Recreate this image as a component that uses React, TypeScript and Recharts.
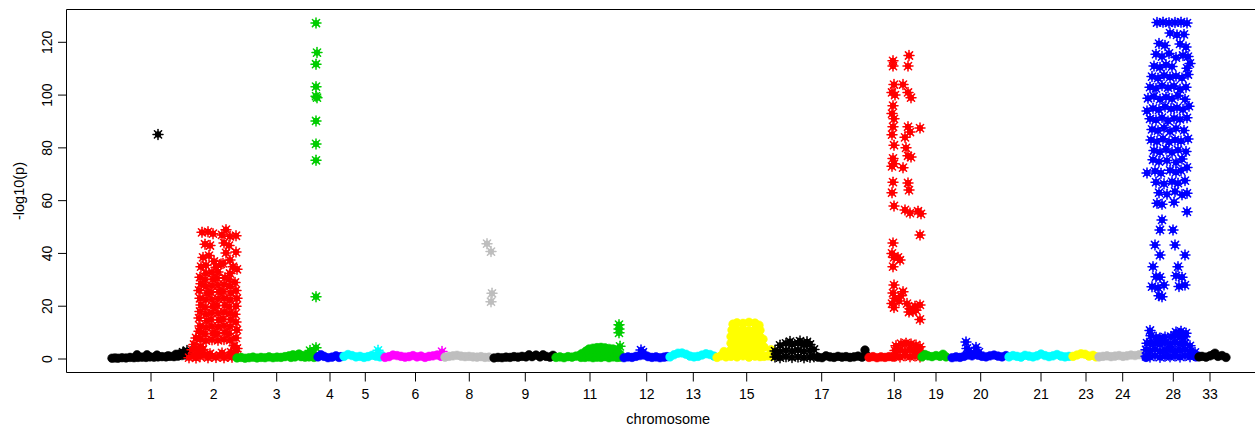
import React from 'react';
import { ScatterChart, Scatter, XAxis, YAxis, ReferenceArea } from 'recharts';

type Pt = [number, number];

// ---- tick labels / positions (cumulative genome position) ----
const chrLabels = ['1', '2', '3', '4', '5', '6', '8', '9', '11', '12', '13', '15', '17', '18', '19', '20', '21', '23', '24', '28', '33'];
const chrTicks = [41, 103.7, 166.7, 220, 255.3, 305.5, 359.3, 415.3, 480, 536.7, 583.3, 636.7, 711.7, 784.3, 826, 870.7, 931, 976, 1012.7, 1063.3, 1100];
const yTicks = [0, 20, 40, 60, 80, 100, 120];

// ---- per-chromosome values: [position, -log10(p)] ----
const chr1Base: Pt[] = [[2,0.3],[5,0.4],[8,0.3],[12,0.5],[16,0.4],[20,0.6],[24,0.5],[27,1.6],[28,0.6],[32,0.7],[36,0.6],[37,1.6],[40,0.8],[44,0.7],[47,1.5],[48,0.8],[52,0.9],[56,0.8],[58,1.2],[60,1.0],[64,0.9],[66,1.8],[68,1.1],[70,2.0],[72,1.3],[74,2.4],[76,1.5],[78,2.0]];
const chr1Hits: Pt[] = [[48,85.1],[73,2.6],[77,3.2]];

const chr2Hits: Pt[] = [
  [79,0.5],[83,1.2],[86,0.4],[90,0.9],[94,1.6],[98,0.5],[102,1.1],[106,0.6],[110,1.4],[114,0.5],[118,1.0],[122,0.7],[125,1.5],[88,2.2],[100,2.0],[112,2.3],[121,2.6],[126,2.8],
  [82,3.5],[84,5.5],[86,8.0],[88,4.0],[89,10.5],[91,4.6],[93,3.6],[124,5.0],[127,4.0],
  [90,7.5],[91,10],[90,12.5],[89,15.5],[90,18],[91,20.5],[90,23],[89,26],[91,28.5],[90,31],
  [96,7.0],[95,9.5],[96,12],[97,14.5],[96,17],[95,19.5],[96,22.5],[97,25],[96,27.5],[95,30],[96,32.5],
  [102,7.3],[103,9.8],[102,12.4],[101,15],[102,17.5],[103,20],[102,22.5],[101,25.2],[102,27.8],[103,30.3],[102,32.8],
  [108,7.1],[107,9.6],[108,12.2],[109,14.8],[108,17.4],[107,20.2],[108,22.8],[109,25.5],[108,28],[107,30.6],[108,33],
  [114,7.4],[115,10],[114,12.6],[113,15.2],[114,17.8],[115,20.4],[114,23],[113,25.6],[114,28.2],[115,30.8],
  [120,7.2],[119,9.7],[120,12.3],[121,14.9],[120,17.3],[119,19.8],[120,22.4],[121,25],[120,27.6],[119,30.2],[120,32.4],
  [126,8],[127,11],[126,14],[125,17],[126,20],[127,23],[126,26],[125,29],
  [92,48],[98,48.2],[103,47.5],[95,43.5],[100,43],[93,38.5],[99,39.2],[104,37],[96,35.5],[91,35],[106,34.8],[111,36],
  [116,49],[112,47],[120,46.5],[126,46.7],[114,44],[119,43],[126,40.5],[116,40.2],[120,37.5],[113,36.2],[123,35],[127,34]
];

const chr3Base: Pt[] = [[127,0.4],[131,0.6],[135,0.3],[139,0.5],[143,0.7],[147,0.4],[151,0.6],[155,0.5],[159,0.8],[163,0.5],[167,0.7],[171,0.6],[175,0.9],[179,1.2],[181,0.6],[183,1.6],[185,0.8],[187,1.4],[189,1.9],[191,0.9],[193,1.3],[195,0.7],[197,1.5],[199,0.8],[201,1.1],[204,0.6]];
const chr3Hits: Pt[] = [[206,127.3],[207,116.1],[206,111.7],[206,103.2],[206,99.6],[207,99.0],[206,90.2],[206,81.5],[206,75.3],[206,23.6],[206,4.3],[200,3.2],[203,2.4]];

const chr4Base: Pt[] = [[208,0.8],[211,1.6],[214,1.0],[218,0.5],[222,0.7],[226,1.2],[229,0.6],[231,0.9]];

const chr5Base: Pt[] = [[234,1.0],[238,1.7],[242,1.3],[246,0.8],[250,1.0],[254,0.6],[258,0.9],[262,1.4],[266,1.1],[270,0.8],[272,1.3]];
const chr5Hits: Pt[] = [[268,3.3]];

const chr6Base: Pt[] = [[275,0.6],[279,0.9],[283,1.5],[287,1.3],[291,1.0],[295,0.7],[299,0.9],[303,1.3],[307,0.8],[311,1.1],[315,0.6],[319,1.0],[323,1.2],[327,1.5],[331,1.0]];
const chr6Hits: Pt[] = [[332,2.8]];

const chr8Base: Pt[] = [[335,0.7],[339,1.0],[343,1.2],[347,1.4],[351,1.1],[355,0.9],[359,1.0],[363,0.8],[367,0.7],[371,0.9],[375,0.6],[379,0.7]];
const chr8Hits: Pt[] = [[377,43.7],[381,40.7],[382,24.9],[381,21.7]];

const chr9Base: Pt[] = [[384,0.4],[388,0.6],[392,0.5],[396,0.7],[400,0.6],[404,0.9],[408,0.7],[412,1.0],[416,0.8],[419,1.6],[422,0.9],[426,1.5],[430,0.8],[433,1.6],[436,1.0],[440,0.7],[443,1.4]];

const chr11Base: Pt[] = [
  [446,0.6],[450,0.8],[454,0.5],[458,0.9],[462,0.7],[466,1.1],[470,1.5],[471,0.6],[472,2.1],
  [475,0.6],[475,2.3],[476,3.0],[479,0.8],[479,2.2],[479,3.8],[483,0.5],[483,2.0],[483,4.1],[487,0.7],[487,2.4],[487,4.3],
  [491,0.6],[491,2.1],[491,4.4],[495,0.9],[495,2.5],[495,4.2],[499,0.5],[499,2.0],[499,4.0],[503,0.8],[503,2.3],[503,3.8],
  [507,0.6],[507,2.2],[507,3.3],[510,0.7],[510,1.8]
];
const chr11Hits: Pt[] = [[509,13.0],[509,11.4],[509,9.9],[510,4.8]];

const chr12Base: Pt[] = [[514,0.5],[518,0.8],[522,0.6],[526,1.0],[530,1.3],[534,1.5],[538,0.9],[542,0.6],[546,0.8],[550,0.5],[554,0.7],[557,0.9]];
const chr12Hits: Pt[] = [[531,3.4],[533,2.6]];

const chr13Base: Pt[] = [[560,0.8],[564,1.6],[568,2.2],[572,2.3],[576,1.8],[580,1.1],[584,0.8],[588,1.0],[592,1.5],[596,2.0],[600,1.7],[604,1.1]];

const chr15Base: Pt[] = [
  [607,0.6],[611,1.2],[614,2.8],[616,0.8],
  [621,1.0],[621,3.5],[621,6.0],[621,8.5],[622,11.0],[623,13.2],
  [627,0.8],[627,3.3],[627,5.8],[627,8.3],[627,10.8],[627,13.7],
  [633,1.2],[633,3.7],[633,6.2],[633,8.7],[633,11.2],[633,13.5],
  [639,0.7],[639,3.2],[639,5.7],[639,8.2],[639,10.7],[639,13.9],
  [645,1.1],[645,3.6],[645,6.1],[645,8.6],[645,11.1],[645,13.6],
  [650,0.9],[650,3.4],[650,5.9],[650,8.4],[650,10.9],[649,12.8],
  [654,1.0],[654,4.5],[653,7.5],[658,1.2],[661,3.5],[662,1.0]
];

const chr17Base: Pt[] = [[708,0.7],[712,0.5],[716,1.2],[720,0.8],[724,0.6],[728,1.0],[732,0.7],[736,0.9],[740,0.6],[744,0.8],[748,1.1],[752,0.7],[755,3.4],[757,1.2]];
const chr17Hits: Pt[] = [
  [665,0.8],[665,3.0],[670,0.5],[670,2.8],[670,5.2],[676,0.9],[676,3.2],[676,5.9],
  [682,0.6],[682,3.0],[682,5.6],[680,6.6],[688,0.8],[688,3.4],[688,6.0],[690,6.8],
  [694,0.5],[694,2.9],[694,5.4],[697,6.5],[700,0.7],[700,3.1],[700,5.5],[704,0.9],[704,3.6]
];

const chr18Base: Pt[] = [[759,0.6],[763,0.9],[767,0.5],[771,0.8],[775,0.6],[779,0.9],[783,0.7]];
const chr18Hits: Pt[] = [
  [785,1.0],[785,3.2],[786,5.0],[790,0.8],[790,3.4],[791,5.8],[795,1.2],[795,3.0],[796,6.0],
  [800,0.9],[800,3.5],[801,5.7],[805,1.1],[805,3.1],[806,5.3],[810,0.8],[810,2.9],[810,4.6],
  [783,113],[783,111],[784,104],[782,101],[785,100],[783,96],[782,93],[784,91],[783,88],[782,85],[784,81],[783,76],[784,74],[782,73],
  [783,67],[782,63],[784,58],[783,44],[782,40],[784,38.5],[783,35],[784,28],[783,25],[785,23],[782,21],[784,19.5],
  [799,115],[798,111],[793,104],[798,101],[801,99],[798,88],[800,86],[795,84],[796,80],[798,77],[801,76.5],[793,72.5],
  [798,66.7],[799,64],[795,56.5],[800,55.3],[788,38.5],[790,37.5],[793,25.5],[797,21],[800,19],[803,18],[799,17.8],
  [789,22],[791,24],[805,20],[806,18.5],
  [810,87.5],[808,56],[811,55],[810,47],[810,20.5],[810,15]
];

const chr19Base: Pt[] = [[812,0.8],[815,1.7],[818,1.2],[822,0.9],[826,1.3],[830,1.0],[833,1.8],[836,0.8]];

const chr20Base: Pt[] = [[842,0.5],[846,0.8],[850,0.6],[854,1.0],[858,1.5],[862,1.2],[866,2.0],[868,1.4],[872,1.0],[876,0.8],[880,1.2],[884,1.5],[888,1.1],[892,0.8],[896,1.3]];
const chr20Hits: Pt[] = [[856,6.4],[857,4.0],[859,3.0],[866,4.4],[869,2.6]];

const chr21Base: Pt[] = [[899,0.8],[903,1.3],[907,1.0],[911,0.7],[915,1.4],[919,1.1],[923,0.8],[927,1.2],[931,1.9],[935,1.3],[939,0.9],[943,1.2],[947,1.7],[951,1.1],[955,0.8],[959,1.0]];

const chr23Base: Pt[] = [[963,1.0],[967,1.5],[971,2.0],[975,1.8],[979,1.1],[983,1.4],[986,0.8]];

const chr24Base: Pt[] = [[989,0.8],[993,1.0],[997,1.2],[1001,0.9],[1005,1.1],[1009,1.3],[1013,1.0],[1017,1.2],[1021,1.5],[1025,1.3],[1029,1.6],[1033,1.8]];

const chr28Base: Pt[] = [[1036,0.6],[1083,1.8],[1086,0.8]];
const chr28Hits: Pt[] = [
  [1036,1.0],[1036,3.5],[1037,6.0],[1040,0.8],[1040,3.2],[1040,6.2],[1041,8.8],[1040,10.8],
  [1045,1.2],[1045,3.6],[1045,6.0],[1046,8.2],[1050,0.7],[1050,3.0],[1050,5.8],[1050,8.0],
  [1055,1.0],[1055,3.3],[1055,6.1],[1055,8.3],[1060,0.9],[1060,3.5],[1060,5.7],[1061,8.5],
  [1065,1.1],[1065,3.1],[1065,6.2],[1065,8.8],[1066,10.2],[1070,0.8],[1070,3.4],[1070,5.9],[1070,8.6],[1071,10.5],
  [1075,1.2],[1075,3.6],[1075,6.0],[1075,8.4],[1076,9.8],[1080,0.9],[1080,2.8],[1080,5.0],[1085,1.3],[1085,2.5],
  [1047,127.5],[1053,127.6],[1059,127.4],[1065,127.5],[1071,127.6],[1077,127.3],
  [1060,123.5],[1067,122.8],[1074,123],
  [1049,119.5],[1055,118.8],[1070,119.4],[1076,118.2],
  [1046,115.5],[1052,114.6],[1059,115.8],[1066,114.2],[1073,115],[1078,114.6],
  [1044,111],[1050,110.5],[1056,111.5],[1062,110.8],[1077,110.2],[1080,112],
  [1042,107],[1048,106.4],[1054,107.5],[1060,106.8],[1066,107.2],[1072,106.5],[1078,107.8],
  [1040,103],[1046,102.5],[1052,103.6],[1058,102.8],[1064,103.4],[1070,102.2],[1076,103],
  [1038,98.8],[1044,99.5],[1050,98.4],[1056,99.2],[1062,98.6],[1068,99.8],[1075,98.4],
  [1037,94],[1043,95],[1049,94.4],[1055,95.6],[1061,94.8],[1067,95.2],[1073,94.5],[1079,95.8],
  [1040,91],[1046,90.6],[1052,91.5],[1058,90.2],[1064,91.2],[1070,90.8],[1077,91.4],
  [1042,87],[1048,86.5],[1054,87.6],[1060,86.2],[1066,87.4],[1074,86.6],
  [1041,83],[1047,82.4],[1053,83.5],[1059,82.2],[1065,83],[1071,82.6],[1078,83.4],
  [1044,79],[1050,78.4],[1056,79.6],[1062,78.2],[1068,79.2],[1076,78.6],
  [1043,75.5],[1049,74.8],[1057,75.2],[1066,74.5],[1072,75.8],
  [1037,70.5],[1045,71.2],[1051,70.4],[1060,71.5],[1066,70.8],[1071,71.4],[1077,72.6],
  [1046,67],[1054,66.4],[1062,67.2],[1068,66.6],[1075,67.6],
  [1049,63],[1057,62.4],[1065,63.5],[1072,62.2],[1077,62.8],
  [1047,59],[1052,58.6],[1064,59.4],[1077,55.8],
  [1052,52.7],[1050,48.9],[1063,48.9],[1045,43.2],[1065,43.2],[1050,39.4],[1075,39.4],[1043,35],[1068,35],
  [1046,31.2],[1050,31],[1066,31.5],[1072,31],[1042,27.4],[1048,27],[1054,28],[1069,27.5],[1075,28],[1049,24],[1052,23.6]
];

const chr33Base: Pt[] = [[1089,0.8],[1092,1.0],[1096,0.7],[1100,1.2],[1103,1.6],[1105,2.2],[1108,1.0],[1112,1.3],[1116,0.6]];

// ---- colours (R classic palette by chromosome number) ----
const BLACK = '#000000';
const RED = '#FF0000';
const GREEN = '#00CD00';
const BLUE = '#0000FF';
const CYAN = '#00FFFF';
const MAGENTA = '#FF00FF';
const YELLOW = '#FFFF00';
const GRAY = '#BEBEBE';

const chromosomes: { label: string; color: string; base: Pt[]; hits: Pt[] }[] = [
  { label: '1', color: BLACK, base: chr1Base, hits: chr1Hits },
  { label: '2', color: RED, base: [], hits: chr2Hits },
  { label: '3', color: GREEN, base: chr3Base, hits: chr3Hits },
  { label: '4', color: BLUE, base: chr4Base, hits: [] },
  { label: '5', color: CYAN, base: chr5Base, hits: chr5Hits },
  { label: '6', color: MAGENTA, base: chr6Base, hits: chr6Hits },
  { label: '8', color: GRAY, base: chr8Base, hits: chr8Hits },
  { label: '9', color: BLACK, base: chr9Base, hits: [] },
  { label: '11', color: GREEN, base: chr11Base, hits: chr11Hits },
  { label: '12', color: BLUE, base: chr12Base, hits: chr12Hits },
  { label: '13', color: CYAN, base: chr13Base, hits: [] },
  { label: '15', color: YELLOW, base: chr15Base, hits: [] },
  { label: '17', color: BLACK, base: chr17Base, hits: chr17Hits },
  { label: '18', color: RED, base: chr18Base, hits: chr18Hits },
  { label: '19', color: GREEN, base: chr19Base, hits: [] },
  { label: '20', color: BLUE, base: chr20Base, hits: chr20Hits },
  { label: '21', color: CYAN, base: chr21Base, hits: [] },
  { label: '23', color: YELLOW, base: chr23Base, hits: [] },
  { label: '24', color: GRAY, base: chr24Base, hits: [] },
  { label: '28', color: BLUE, base: chr28Base, hits: chr28Hits },
  { label: '33', color: BLACK, base: chr33Base, hits: [] },
];

const FONT = '"Liberation Sans", Arial, Helvetica, sans-serif';
const X_DOMAIN: [number, number] = [-43.5, 1160];
const Y_DOMAIN: [number, number] = [-5.115, 132.43];

const toXY = (a: Pt[]) => a.map(([x, y]) => ({ x, y }));

const circleShape = (color: string) => (p: any) => {
  if (p == null || p.cx == null) return <g />;
  return <circle cx={p.cx} cy={p.cy} r={4.3} fill={color} stroke={color} strokeWidth={0.6} />;
};

const starShape = (color: string) => (p: any) => {
  if (p == null || p.cx == null) return <g />;
  const { cx, cy } = p;
  const r = 5;
  const d = 3.6;
  return (
    <g stroke={color} strokeWidth={1.5} strokeLinecap="round">
      <circle cx={cx} cy={cy} r={3.1} fill={color} stroke="none" />
      <line x1={cx - r} y1={cy} x2={cx + r} y2={cy} />
      <line x1={cx} y1={cy - r} x2={cx} y2={cy + r} />
      <line x1={cx - d} y1={cy - d} x2={cx + d} y2={cy + d} />
      <line x1={cx - d} y1={cy + d} x2={cx + d} y2={cy - d} />
    </g>
  );
};

const XTick = (props: any) => {
  const { x, payload } = props;
  const i = chrTicks.indexOf(payload.value);
  return (
    <text x={x} y={399} textAnchor="middle" fontSize={14} fontFamily={FONT} fill="#000">
      {i >= 0 ? chrLabels[i] : payload.value}
    </text>
  );
};

const YTick = (props: any) => {
  const { y, payload } = props;
  const x = 52.5;
  return (
    <text x={x} y={y} transform={`rotate(-90 ${x} ${y})`} textAnchor="middle" fontSize={14} fontFamily={FONT} fill="#000">
      {payload.value}
    </text>
  );
};

const XLabel = (props: any) => {
  const vb = props.viewBox || { x: 66.5, width: 1203.5 };
  return (
    <text x={vb.x + vb.width / 2} y={424} textAnchor="middle" fontSize={14.5} fontFamily={FONT} fill="#000">
      chromosome
    </text>
  );
};

const YLabel = (props: any) => {
  const vb = props.viewBox || { y: 9.5, height: 363 };
  const cy = vb.y + vb.height / 2;
  const x = 24;
  return (
    <text x={x} y={cy} transform={`rotate(-90 ${x} ${cy})`} textAnchor="middle" fontSize={14.5} fontFamily={FONT} fill="#000">
      -log10(p)
    </text>
  );
};

export default function App() {
  const series: React.ReactNode[] = [];
  chromosomes.forEach((c) => {
    if (c.base.length) {
      series.push(
        <Scatter key={c.label + '-b'} data={toXY(c.base)} fill={c.color} shape={circleShape(c.color)} isAnimationActive={false} legendType="none" />
      );
    }
    if (c.hits.length) {
      series.push(
        <Scatter key={c.label + '-h'} data={toXY(c.hits)} fill={c.color} shape={starShape(c.color)} isAnimationActive={false} legendType="none" />
      );
    }
  });

  return (
    <div style={{ position: 'absolute', left: 0, top: 0, width: 1255, height: 427, overflow: 'hidden', background: '#fff', fontFamily: FONT }}>
      <ScatterChart width={1290} height={427} margin={{ top: 9.5, right: 20, bottom: 0, left: 6.5 }}>
        <XAxis
          type="number"
          dataKey="x"
          domain={X_DOMAIN}
          ticks={chrTicks}
          interval={0}
          height={54.5}
          tickSize={9}
          tickLine={{ stroke: '#000', strokeWidth: 1 }}
          axisLine={false}
          tick={XTick}
          allowDataOverflow
          label={{ content: XLabel }}
        />
        <YAxis
          type="number"
          dataKey="y"
          domain={Y_DOMAIN}
          ticks={yTicks}
          interval={0}
          width={60}
          tickSize={8.5}
          tickLine={{ stroke: '#000', strokeWidth: 1 }}
          axisLine={false}
          tick={YTick}
          allowDataOverflow
          label={{ content: YLabel }}
        />
        <ReferenceArea x1={X_DOMAIN[0]} x2={X_DOMAIN[1]} y1={Y_DOMAIN[0]} y2={Y_DOMAIN[1]} fill="none" stroke="#000" strokeWidth={1} ifOverflow="visible" />
        {series}
      </ScatterChart>
    </div>
  );
}
